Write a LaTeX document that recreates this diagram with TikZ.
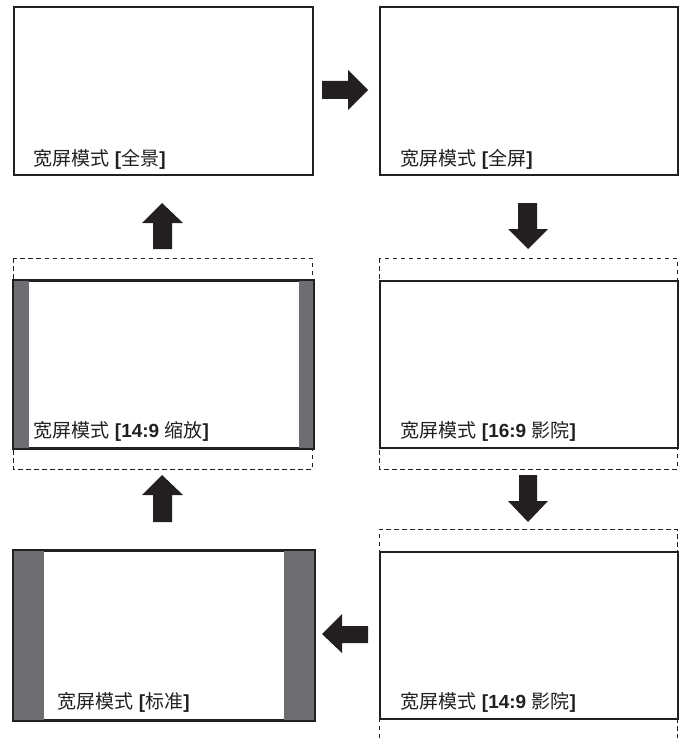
\documentclass[tikz,border=0pt]{standalone}
\usepackage{fontspec}
\newfontfamily\cjf{Noto Sans CJK SC}
\newfontfamily\ltf[BoldFont={Liberation Sans Bold}]{Liberation Sans}
\newcommand\cj[1]{{\cjf #1}}
\newcommand\lt[1]{{\ltf\bfseries #1}}
\definecolor{ink}{HTML}{231F20}
\definecolor{bar}{HTML}{6D6E71}
\tikzset{
  screen/.style={draw=ink, line width=2pt, fill=white, rectangle, inner sep=0pt, anchor=north west, minimum width=299pt, minimum height=168pt},
  guide/.style={draw=ink, line width=0.9pt, dash pattern=on 4.5pt off 3.5pt},
  lab/.style={anchor=base west, inner sep=0pt, text=ink, font=\fontsize{19}{22}\selectfont},
  blk/.style={fill=ink, draw=none},
  sidebar/.style={fill=bar, draw=none}
}
\begin{document}
\begin{tikzpicture}[x=1pt, y=-1pt]
\useasboundingbox (0,0) rectangle (682,738);
% ---- row 1
\node[screen] (b1) at (13,6) {};
\node[lab] (t1) at (33,166) {\cj{宽屏模式} \lt{[}\cj{全景}\lt{]}};
\node[screen, minimum width=298pt] (b2) at (379,6) {};
\node[lab] (t2) at (400,166) {\cj{宽屏模式} \lt{[}\cj{全屏}\lt{]}};
% ---- row 2 right: 16:9 cinema
\draw[guide] (379,258) rectangle (677,469);
\node[screen, minimum width=298pt, minimum height=167pt] (b3) at (379,280) {};
\node[lab] (t3) at (400,437) {\cj{宽屏模式} \lt{[16:9 }\cj{影院}\lt{]}};
% ---- row 2 left: 14:9 zoom
\draw[guide] (13,258) rectangle (312,469);
\node[screen, minimum width=299pt, minimum height=167pt] (b4) at (13,280) {};
\fill[sidebar] (b4.north west) rectangle ([xshift=16pt]b4.south west);
\fill[sidebar] ([xshift=-15pt]b4.north east) rectangle (b4.south east);
\draw[draw=ink, line width=2pt] (b4.north west) rectangle (b4.south east);
\node[lab] (t4) at (33,437) {\cj{宽屏模式} \lt{[14:9 }\cj{缩放}\lt{]}};
% ---- row 3 right: 14:9 cinema
\draw[guide] (379,738) -- (379,529) -- (677,529) -- (677,738);
\node[screen, minimum width=298pt, minimum height=167pt] (b5) at (379,551) {};
\node[lab] (t5) at (400,708) {\cj{宽屏模式} \lt{[14:9 }\cj{影院}\lt{]}};
% ---- row 3 left: standard
\node[screen, minimum width=300pt, minimum height=169pt] (b6) at (13,550) {};
\fill[sidebar] (b6.north west) rectangle ([xshift=31pt]b6.south west);
\fill[sidebar] ([xshift=-31pt]b6.north east) rectangle (b6.south east);
\draw[draw=ink, line width=2pt] (b6.north west) rectangle (b6.south east);
\node[lab] (t6) at (57,708) {\cj{宽屏模式} \lt{[}\cj{标准}\lt{]}};
% ---- block arrows
% right: b1 -> b2
\fill[blk] (322,81) -- (348,81) -- (348,70) -- (368,90) -- (348,110) -- (348,99) -- (322,99) -- cycle;
% down: b2 -> b3
\fill[blk] (518,203) -- (537,203) -- (537,229) -- (548,229) -- (528,249) -- (508,229) -- (518,229) -- cycle;
% down: b3 -> b5
\fill[blk] (519,475) -- (537,475) -- (537,501) -- (548,501) -- (528,522) -- (508,501) -- (519,501) -- cycle;
% left: b5 -> b6
\fill[blk] (368,626) -- (342,626) -- (342,614) -- (322,634) -- (342,653) -- (342,643) -- (368,643) -- cycle;
% up: b6 -> b4
\fill[blk] (153,522) -- (172,522) -- (172,495) -- (183,495) -- (162,475) -- (142,495) -- (153,495) -- cycle;
% up: b4 -> b1
\fill[blk] (153,249) -- (172,249) -- (172,223) -- (183,223) -- (162,203) -- (142,223) -- (153,223) -- cycle;
\end{tikzpicture}
\end{document}
